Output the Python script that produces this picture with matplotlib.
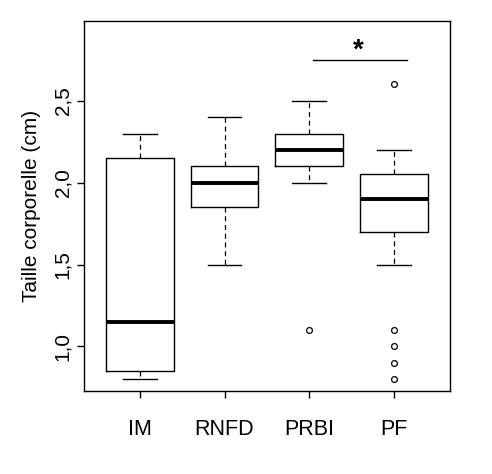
import matplotlib
matplotlib.use("Agg")
import matplotlib.pyplot as plt

categories = ["IM", "RNFD", "PRBI", "PF"]
whis_low = [0.80, 1.50, 2.00, 1.50]
q1 = [0.85, 1.85, 2.10, 1.70]
medians = [1.15, 2.00, 2.20, 1.90]
q3 = [2.15, 2.10, 2.30, 2.05]
whis_high = [2.30, 2.40, 2.50, 2.20]
outliers = [[], [], [1.10], [2.60, 1.10, 1.00, 0.90, 0.80]]
yticks = [1.0, 1.5, 2.0, 2.5]
ytick_labels = ["1,0", "1,5", "2,0", "2,5"]
sig_pair = (3, 4)
sig_y = 2.75
sig_text = "*"

plt.rcParams['font.family'] = ['Liberation Sans', 'DejaVu Sans']

fig = plt.figure(figsize=(4.92, 4.74), dpi=100)
ax = fig.add_axes([84/492, 1 - 391/474, (449.7 - 84)/492, (391 - 21)/474])

stats = []
for i, c in enumerate(categories):
    stats.append(dict(label=c, whislo=whis_low[i], q1=q1[i], med=medians[i],
                      q3=q3[i], whishi=whis_high[i], fliers=outliers[i]))

positions = list(range(1, len(categories) + 1))
ax.bxp(stats, positions=positions, widths=0.8, showfliers=True,
       boxprops=dict(color="black", linewidth=1.0),
       medianprops=dict(color="black", linewidth=2.8, solid_capstyle="butt"),
       whiskerprops=dict(color="black", linewidth=0.9, linestyle=(0, (4, 3))),
       capprops=dict(color="black", linewidth=1.0),
       capwidths=0.4,
       flierprops=dict(marker="o", markersize=4.2, markerfacecolor="none",
                       markeredgecolor="black", markeredgewidth=0.9))

ax.set_xlim(0.34, 4.66)
ax.set_ylim(0.727, 2.988)
ax.set_yticks(yticks)
ax.set_yticklabels(ytick_labels, rotation=90, va="center", fontsize=15)
ax.set_xticks(positions)
ax.set_xticklabels(categories, fontsize=15.5)
ax.tick_params(axis="x", length=5, width=1, pad=15.5, direction="out")
ax.tick_params(axis="y", length=5, width=1, pad=3.5, direction="out")
for s in ax.spines.values():
    s.set_linewidth(1.0)

ax.set_ylabel("Taille corporelle (cm)", fontsize=15, labelpad=8.5)

x0, x1 = sig_pair
ax.plot([x0 + 0.05, x1 + 0.16], [sig_y, sig_y], color="black", linewidth=1.0)
ax.text((x0 + x1) / 2 + 0.08, sig_y + 0.012, sig_text, ha="center", va="baseline",
        fontsize=20, fontweight="bold")

fig.savefig("out.png", dpi=100)
